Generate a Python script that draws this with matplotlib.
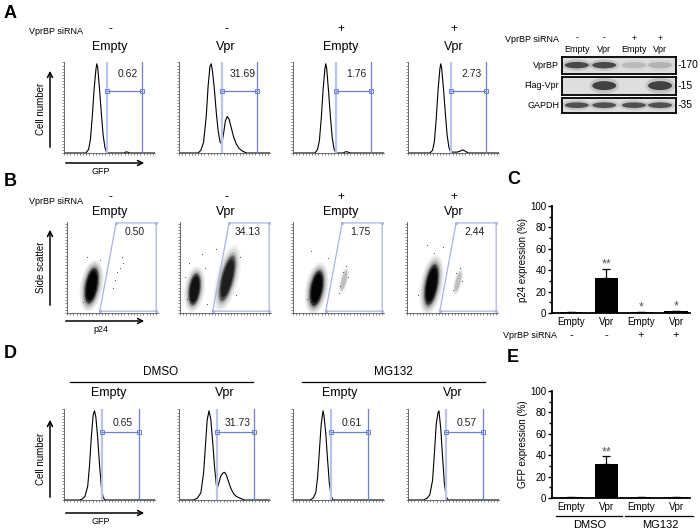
import matplotlib
matplotlib.use('Agg')
import matplotlib.pyplot as plt
from matplotlib.patches import Ellipse
from matplotlib.ticker import MultipleLocator

plt.rcParams['font.family'] = ['Liberation Sans', 'DejaVu Sans']

# ---- data ----
conditions = ['Empty', 'Vpr', 'Empty', 'Vpr']
sirna = ['-', '-', '+', '+']
treatments = ['DMSO', 'MG132']

# panel A histograms (x, y in relative units)
a1_x = [0, 0.24, 0.27, 0.29, 0.31, 0.33, 0.35, 0.36, 0.37, 0.39, 0.41, 0.43, 0.45, 0.47, 0.66, 0.68, 0.70, 0.72, 1.0]
a1_y = [0, 0, 0.04, 0.15, 0.40, 0.70, 0.93, 1.0, 0.96, 0.72, 0.45, 0.20, 0.06, 0, 0, 0.012, 0.01, 0, 0]
a2_x = [0, 0.21, 0.24, 0.27, 0.30, 0.32, 0.34, 0.355, 0.37, 0.39, 0.41, 0.43, 0.45, 0.47, 0.49, 0.51,
        0.53, 0.55, 0.57, 0.60, 0.63, 0.66, 0.70, 0.74, 1.0]
a2_y = [0, 0, 0.03, 0.12, 0.42, 0.75, 0.97, 1.0, 0.90, 0.70, 0.45, 0.25, 0.13, 0.10, 0.22, 0.36,
        0.41, 0.38, 0.30, 0.18, 0.10, 0.05, 0.02, 0, 0]
a3_x = [0, 0.24, 0.27, 0.29, 0.31, 0.33, 0.35, 0.36, 0.37, 0.39, 0.41, 0.43, 0.45, 0.47, 0.55, 0.58, 0.60, 0.63, 1.0]
a3_y = [0, 0, 0.04, 0.14, 0.38, 0.70, 0.94, 1.0, 0.95, 0.70, 0.42, 0.18, 0.05, 0, 0, 0.015, 0.012, 0, 0]
a4_x = [0, 0.24, 0.27, 0.29, 0.31, 0.33, 0.35, 0.36, 0.37, 0.39, 0.41, 0.43, 0.45, 0.47, 0.54, 0.57, 0.60, 0.63, 0.66, 1.0]
a4_y = [0, 0, 0.03, 0.13, 0.38, 0.70, 0.94, 1.0, 0.95, 0.72, 0.45, 0.20, 0.06, 0.01, 0.01, 0.02, 0.035, 0.02, 0, 0]

# panel D histograms
d1_x = [0, 0.17, 0.20, 0.23, 0.26, 0.28, 0.30, 0.32, 0.335, 0.35, 0.37, 0.39, 0.41, 0.43, 0.45, 1.0]
d1_y = [0, 0, 0.01, 0.04, 0.15, 0.38, 0.70, 0.95, 1.0, 0.93, 0.70, 0.40, 0.15, 0.03, 0, 0]
d2_x = [0, 0.16, 0.20, 0.24, 0.27, 0.29, 0.31, 0.33, 0.35, 0.37, 0.39, 0.41, 0.42, 0.44, 0.46, 0.48,
        0.50, 0.52, 0.54, 0.57, 0.60, 0.63, 0.67, 0.72, 1.0]
d2_y = [0, 0, 0.02, 0.08, 0.30, 0.60, 0.90, 1.0, 0.90, 0.65, 0.38, 0.17, 0.13, 0.20, 0.27, 0.30,
        0.31, 0.28, 0.22, 0.13, 0.07, 0.04, 0.02, 0, 0]
d3_x = [0, 0.19, 0.22, 0.25, 0.27, 0.29, 0.31, 0.33, 0.34, 0.36, 0.38, 0.40, 0.42, 0.44, 1.0]
d3_y = [0, 0, 0.02, 0.08, 0.25, 0.55, 0.85, 1.0, 0.95, 0.75, 0.45, 0.18, 0.04, 0, 0]
d4_x = [0, 0.17, 0.21, 0.24, 0.27, 0.29, 0.31, 0.33, 0.34, 0.36, 0.38, 0.40, 0.42, 0.44, 1.0]
d4_y = [0, 0, 0.02, 0.06, 0.22, 0.52, 0.85, 0.98, 1.0, 0.80, 0.48, 0.18, 0.04, 0, 0]

a_pct = ['0.62', '31.69', '1.76', '2.73']
b_pct = ['0.50', '34.13', '1.75', '2.44']
d_pct = ['0.65', '31.73', '0.61', '0.57']

# panel B scatter clouds: (x, y, width, height, angle, density)
b1_clouds = [(0.27, 0.30, 0.13, 0.38, -10, 1.0)]
b2_clouds = [(0.16, 0.26, 0.12, 0.34, -8, 0.8), (0.52, 0.38, 0.13, 0.50, -14, 0.7)]
b3_clouds = [(0.26, 0.27, 0.13, 0.38, -10, 1.0), (0.56, 0.36, 0.06, 0.25, -14, 0.12)]
b4_clouds = [(0.27, 0.31, 0.13, 0.44, -10, 0.95), (0.56, 0.34, 0.06, 0.25, -14, 0.12)]
# a few isolated events
b1_dots_x = [0.50, 0.53, 0.55, 0.58, 0.60, 0.62, 0.18, 0.36, 0.22]
b1_dots_y = [0.28, 0.36, 0.45, 0.50, 0.62, 0.55, 0.12, 0.58, 0.62]
b2_dots_x = [0.05, 0.08, 0.28, 0.30, 0.40, 0.62, 0.66, 0.24, 0.10]
b2_dots_y = [0.40, 0.15, 0.50, 0.10, 0.70, 0.20, 0.62, 0.65, 0.55]
b3_dots_x = [0.52, 0.55, 0.58, 0.60, 0.50, 0.38, 0.15, 0.20]
b3_dots_y = [0.30, 0.45, 0.52, 0.40, 0.22, 0.60, 0.15, 0.68]
b4_dots_x = [0.50, 0.54, 0.58, 0.60, 0.40, 0.12, 0.22, 0.30]
b4_dots_y = [0.25, 0.44, 0.50, 0.35, 0.72, 0.20, 0.75, 0.66]

# western blot band intensities
blot_rows = ['VprBP', 'Flag-Vpr', 'GAPDH']
blot_kda = ['170', '15', '35']
vprbp_band = [0.85, 0.85, 0.18, 0.22]
flag_band = [0, 0.9, 0, 0.9]
gapdh_band = [0.8, 0.8, 0.8, 0.8]

# bar charts
c_vals = [0.7, 33, 1.0, 1.5]
c_err = [0.2, 8, 0.3, 0.4]
c_stars = ['', '**', '*', '*']
e_vals = [0.5, 32, 0.5, 0.5]
e_err = [0.1, 7, 0.1, 0.1]
e_stars = ['', '**', '', '']

W, H = 700, 532
fig = plt.figure(figsize=(7, 5.32), dpi=100)


def px(x0, y0, w, h):
    return [x0 / W, 1 - (y0 + h) / H, w / W, h / H]


ov = fig.add_axes([0, 0, 1, 1])
ov.set_xlim(0, W)
ov.set_ylim(H, 0)
ov.axis('off')

gate_lo = '#b9c3ec'
gate_hi = '#6b7fd3'


def flow_axes(x0, y0):
    ax = fig.add_axes(px(x0, y0, 91, 91))
    ax.set_xlim(0, 1)
    ax.set_ylim(0, 1.02)
    for s in ['top', 'right']:
        ax.spines[s].set_visible(False)
    for s in ['left', 'bottom']:
        ax.spines[s].set_linewidth(0.6)
        ax.spines[s].set_color('#555555')
    ax.set_xticks([])
    ax.set_yticks([])
    ax.xaxis.set_minor_locator(MultipleLocator(0.035))
    ax.yaxis.set_minor_locator(MultipleLocator(0.035))
    ax.tick_params(which='minor', length=1.5, width=0.5, color='#555555', direction='out')
    ax.set_facecolor('none')
    return ax


def histogram(ax, xs, ys, lo, hi, lvl, pct, tx, ty):
    ax.plot(xs, ys, color='black', lw=0.8)
    ax.axvline(lo, color=gate_lo, lw=1.6)
    ax.axvline(hi, color=gate_hi, lw=0.9)
    ax.plot([lo, hi], [lvl, lvl], color=gate_hi, lw=0.9, marker='s', ms=3, mfc='none', mew=0.7)
    ax.text(tx, ty, pct, ha='center', va='center', fontsize=7.5, color='#222222')


hist_left = [64, 179, 293, 408]
label_x = [110, 226, 341, 454]

# ---- panel A ----
a_curves = [(a1_x, a1_y), (a2_x, a2_y), (a3_x, a3_y), (a4_x, a4_y)]
for i, (xs, ys) in enumerate(a_curves):
    ax = flow_axes(hist_left[i], 62)
    histogram(ax, xs, ys, 0.47, 0.86, 0.70, a_pct[i], 0.70, 0.89)

ov.text(4, 13, 'A', fontsize=13, fontweight='bold', va='center')
ov.text(83, 31, 'VprBP siRNA', fontsize=6.5, ha='right', va='center')
for i in range(4):
    ov.text(label_x[i], 29, sirna[i], fontsize=8.5, ha='center', va='center')
    ov.text(label_x[i], 47, conditions[i], fontsize=9, ha='center', va='center')

# ---- panel B ----
b_clouds = [b1_clouds, b2_clouds, b3_clouds, b4_clouds]
b_dots = [(b1_dots_x, b1_dots_y), (b2_dots_x, b2_dots_y), (b3_dots_x, b3_dots_y), (b4_dots_x, b4_dots_y)]
b_left = [67, 180, 293, 407]
gate_x = [0.36, 0.54, 0.98, 0.98, 0.36]
gate_y = [0.02, 0.99, 0.99, 0.02, 0.02]
halo = [(1.9, 1.5, 0.08), (1.6, 1.35, 0.12), (1.35, 1.2, 0.2), (1.15, 1.08, 0.35), (1.0, 1.0, 0.6), (0.8, 0.85, 0.9)]
for i, clouds in enumerate(b_clouds):
    ax = flow_axes(b_left[i], 222)
    ax.set_ylim(0, 1)
    for (cx, cy, w, h, ang, dens) in clouds:
        for (sw, sh, a) in halo:
            ax.add_patch(Ellipse((cx, cy), w * sw, h * sh, angle=ang, transform=ax.transAxes,
                                 color='black', alpha=a * dens, lw=0))
    ax.scatter(b_dots[i][0], b_dots[i][1], s=0.6, color='#444444', lw=0)
    ax.plot(gate_x, gate_y, color='#aab4e4', lw=0.9, marker='o', ms=2.2, mfc='#aab4e4', mew=0)
    ax.text(0.74, 0.89, b_pct[i], ha='center', va='center', fontsize=7.5, color='#222222')

ov.text(4, 181, 'B', fontsize=13, fontweight='bold', va='center')
ov.text(83, 201, 'VprBP siRNA', fontsize=6.5, ha='right', va='center')
for i in range(4):
    ov.text(label_x[i], 197, sirna[i], fontsize=8.5, ha='center', va='center')
    ov.text(label_x[i], 212, conditions[i], fontsize=9, ha='center', va='center')

# ---- panel D ----
d_curves = [(d1_x, d1_y), (d2_x, d2_y), (d3_x, d3_y), (d4_x, d4_y)]
for i, (xs, ys) in enumerate(d_curves):
    ax = flow_axes(hist_left[i], 409)
    histogram(ax, xs, ys, 0.42, 0.82, 0.76, d_pct[i], 0.65, 0.86)

ov.text(4, 353, 'D', fontsize=13, fontweight='bold', va='center')
ov.text(161, 372, treatments[0], fontsize=8.5, ha='center', va='center')
ov.text(393, 372, treatments[1], fontsize=8.5, ha='center', va='center')
ov.plot([70, 253], [382, 382], color='black', lw=0.9)
ov.plot([302, 485], [382, 382], color='black', lw=0.9)
for i in range(4):
    ov.text(label_x[i] - 1, 393, conditions[i], fontsize=9, ha='center', va='center')

# axis arrows for the flow panels
arrow_kw = dict(arrowstyle='->', color='black', lw=1.1, mutation_scale=9)
for (y_top, y_bot, yh, ylab, xlab, xlab_y) in [(68, 150, 163, 'Cell number', 'GFP', 170),
                                              (227, 308, 321, 'Side scatter', 'p24', 328),
                                              (417, 500, 513, 'Cell number', 'GFP', 520)]:
    ov.annotate('', xy=(50, y_top), xytext=(50, y_bot), arrowprops=arrow_kw)
    ov.annotate('', xy=(147, yh), xytext=(63, yh), arrowprops=arrow_kw)
    ov.text(41, (y_top + y_bot) / 2, ylab, rotation=90, fontsize=7, ha='center', va='center')
    ov.text(101, xlab_y + 2, xlab, fontsize=6.5, ha='center', va='center')

# ---- western blot ----
ov.text(559, 40, 'VprBP siRNA', fontsize=6.5, ha='right', va='center')
lane_x = [0.13, 0.37, 0.63, 0.86]
for i in range(4):
    ov.text(562 + lane_x[i] * 114, 38, sirna[i], fontsize=6.5, ha='center', va='center')
    ov.text(562 + lane_x[i] * 114, 50, conditions[i], fontsize=6.5, ha='center', va='center')
blot_y = [(57, 17), (77, 18), (98, 15)]
blot_bands = [vprbp_band, flag_band, gapdh_band]
for r, name in enumerate(blot_rows):
    y0, h = blot_y[r]
    ax = fig.add_axes(px(562, y0, 114, h))
    ax.set_facecolor('#dedede')
    ax.set_xlim(0, 1)
    ax.set_ylim(0, 1)
    ax.set_xticks([])
    ax.set_yticks([])
    for s in ax.spines.values():
        s.set_linewidth(1.3)
    bh = 0.5 if r == 1 else 0.38
    for i, inten in enumerate(blot_bands[r]):
        if inten <= 0:
            continue
        ax.add_patch(Ellipse((lane_x[i], 0.52), 0.26, bh * 1.8, color='#888888', alpha=0.35 * inten, lw=0))
        ax.add_patch(Ellipse((lane_x[i], 0.52), 0.21, bh, color='#333333', alpha=inten, lw=0))
    ov.text(559, y0 + h / 2, name, fontsize=6.5, ha='right', va='center')
    ov.text(678, y0 + h / 2, '-' + blot_kda[r], fontsize=7.5, ha='left', va='center')


# ---- bar charts ----
def bar_chart(y0, vals, errs, stars, ylabel):
    ax = fig.add_axes(px(552, y0, 138, 107))
    x = list(range(len(vals)))
    ax.bar(x, vals, width=0.66, color='black')
    ax.errorbar(x, vals, yerr=[[0] * len(vals), errs], fmt='none', ecolor='black',
                elinewidth=0.9, capsize=3, capthick=0.9)
    for xi, v, e, s in zip(x, vals, errs, stars):
        if s:
            ax.text(xi, v + e + 4, s, ha='center', va='center', fontsize=9, color='#555555')
    ax.set_xlim(-0.55, 3.4)
    ax.set_ylim(0, 100)
    ax.set_yticks([0, 20, 40, 60, 80, 100])
    ax.yaxis.set_minor_locator(MultipleLocator(10))
    ax.tick_params(axis='y', which='major', labelsize=7, length=3, width=1, pad=1)
    ax.tick_params(axis='y', which='minor', length=2, width=1)
    ax.set_xticks(x)
    ax.set_xticklabels(conditions, fontsize=7)
    ax.tick_params(axis='x', length=0, pad=3)
    for s in ['top', 'right']:
        ax.spines[s].set_visible(False)
    for s in ['left', 'bottom']:
        ax.spines[s].set_linewidth(1.3)
    ax.set_ylabel(ylabel, fontsize=7, labelpad=2)
    ax.set_facecolor('none')
    return ax


axc = bar_chart(206, c_vals, c_err, c_stars, 'p24 expression (%)')
for i in range(4):
    axc.text(i, -0.21, sirna[i], transform=axc.get_xaxis_transform(), ha='center', va='center', fontsize=8)
axc.text(-0.4, -0.21, 'VprBP siRNA', transform=axc.get_xaxis_transform(), ha='right', va='center', fontsize=6.5)
ov.text(507, 180, 'C', fontsize=13, fontweight='bold', va='center')

axe = bar_chart(391, e_vals, e_err, e_stars, 'GFP expression (%)')
ov.plot([556, 622], [516, 516], color='black', lw=0.9)
ov.plot([625, 693], [516, 516], color='black', lw=0.9)
ov.text(590, 525, treatments[0], fontsize=8, ha='center', va='center')
ov.text(660, 525, treatments[1], fontsize=8, ha='center', va='center')
ov.text(507, 358, 'E', fontsize=13, fontweight='bold', va='center')

fig.savefig('out.png', dpi=100)
